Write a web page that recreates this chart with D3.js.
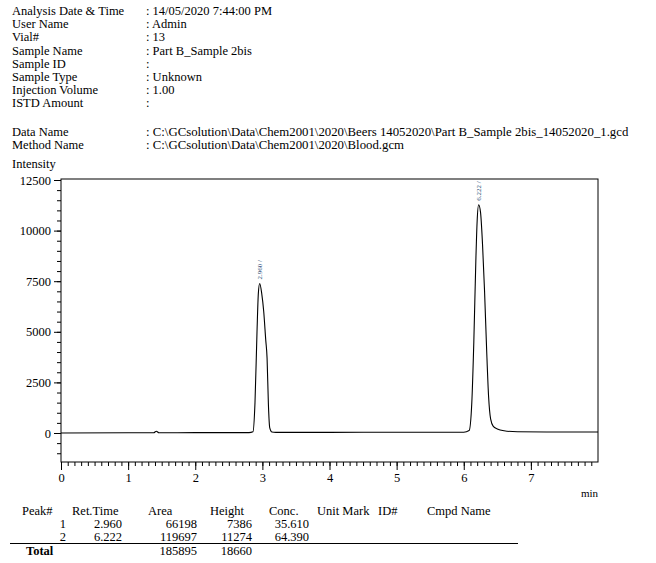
<!DOCTYPE html>
<html><head><meta charset="utf-8">
<script src="https://cdn.jsdelivr.net/npm/d3@7"></script>
<style>body{margin:0;background:#fff}text{font-family:"Liberation Serif","Times New Roman",serif;fill:#000}</style>
</head><body><svg id="c" width="656" height="563"></svg>
<script>
const headerLabels = ["Analysis Date & Time","User Name","Vial#","Sample Name","Sample ID","Sample Type","Injection Volume","ISTD Amount"];
const headerValues = [": 14/05/2020 7:44:00 PM",": Admin",": 13",": Part B_Sample 2bis",":",": Unknown",": 1.00",":"];
const fileLabels = ["Data Name","Method Name"];
const fileValues = [": C:\\GCsolution\\Data\\Chem2001\\2020\\Beers 14052020\\Part B_Sample 2bis_14052020_1.gcd",": C:\\GCsolution\\Data\\Chem2001\\2020\\Blood.gcm"];
const times = [0,1.0,1.38,1.42,1.46,2.0,2.8,2.86,2.89,2.92,2.94,2.96,2.99,3.02,3.05,3.07,3.09,3.11,3.14,3.2,4.0,5.0,6.0,6.08,6.12,6.15,6.18,6.20,6.222,6.25,6.28,6.31,6.34,6.37,6.40,6.44,6.50,6.6,6.8,7.5,8.0];
const intensity = [0,10,10,90,10,20,20,60,1500,5000,6900,7386,6900,6000,4600,3700,1400,250,50,30,30,40,40,120,1500,4500,8500,10500,11274,10900,9300,7000,4200,1800,700,330,200,110,60,50,50];
const peakTimes = ["2.960","6.222"];
const peakHeights = [7386,11274];
const tableHead = ["Peak#","Ret.Time","Area","Height","Conc.","Unit Mark","ID#","Cmpd Name"];
const tableRows = [["1","2.960","66198","7386","35.610"],["2","6.222","119697","11274","64.390"]];
const totals = ["Total","","185895","18660"];

const svg = d3.select("#c");
headerLabels.forEach((t,i)=>{
  svg.append("text").attr("x",12).attr("y",15+i*13.2).attr("font-size",12.5).text(t);
  svg.append("text").attr("x",146).attr("y",15+i*13.2).attr("font-size",12.5).text(headerValues[i]);
});
fileLabels.forEach((t,i)=>{
  svg.append("text").attr("x",12).attr("y",136+i*13).attr("font-size",12.5).text(t);
  svg.append("text").attr("x",146).attr("y",136+i*13).attr("font-size",12.8).text(fileValues[i]);
});
svg.append("text").attr("x",12).attr("y",168).attr("font-size",12.5).text("Intensity");

const L=61,R=598,T=179,B=462;
const x = d3.scaleLinear().domain([0,8]).range([L,R]);
const y = d3.scaleLinear().domain([0,12500]).range([433,180]);
svg.append("rect").attr("x",L).attr("y",T).attr("width",R-L).attr("height",B-T).attr("fill","none").attr("stroke","#000");

const xa = svg.append("g").attr("transform",`translate(0,${B})`);
xa.call(d3.axisBottom(x).tickValues(d3.range(0,8,0.1)).tickSize(4).tickFormat(""));
xa.append("g").call(d3.axisBottom(x).tickValues(d3.range(0,8,1)).tickSize(8).tickFormat(d3.format("d")));
xa.selectAll("path").remove();
xa.selectAll("text").attr("font-size",12.5).attr("font-family","Liberation Serif").attr("fill","#000");
svg.append("text").attr("x",R).attr("y",497).attr("text-anchor","end").attr("font-size",11).text("min");

const ya = svg.append("g").attr("transform",`translate(${L},0)`);
ya.call(d3.axisLeft(y).tickValues(d3.range(-1000,12600,500)).tickSize(4).tickFormat(""));
ya.append("g").call(d3.axisLeft(y).tickValues(d3.range(0,12600,2500)).tickSize(7).tickFormat(d3.format("d")));
ya.selectAll("path").remove();
ya.selectAll("text").attr("font-size",12.5).attr("font-family","Liberation Serif").attr("fill","#000");

svg.append("path").datum(times.map((t,i)=>[t,intensity[i]]))
  .attr("d",d3.line().x(d=>x(d[0])).y(d=>y(d[1])).curve(d3.curveMonotoneX))
  .attr("fill","none").attr("stroke","#000").attr("stroke-width",1.1);

peakTimes.forEach((p,i)=>{
  svg.append("text").attr("transform",`translate(${x(+p)+2},${y(peakHeights[i])-4}) rotate(-90)`)
    .attr("font-size",7).style("fill","#2f4f7a").text(p+" /");
});

const hx=[22,72,148,210,269,317,378,427];
tableHead.forEach((t,i)=>svg.append("text").attr("x",hx[i]).attr("y",515).attr("font-size",12.5).text(t));
const rx=[66,122,197,252,309];
tableRows.forEach((r,j)=>r.forEach((v,i)=>svg.append("text").attr("x",rx[i]).attr("y",528+j*13).attr("text-anchor","end").attr("font-size",12.5).text(v)));
svg.append("line").attr("x1",10).attr("x2",518).attr("y1",543.5).attr("y2",543.5).attr("stroke","#000");
svg.append("text").attr("x",26).attr("y",555).attr("font-size",12.5).attr("font-weight","bold").text(totals[0]);
[2,3].forEach(i=>svg.append("text").attr("x",rx[i]).attr("y",555).attr("text-anchor","end").attr("font-size",12.5).text(totals[i]));
</script></body></html>
